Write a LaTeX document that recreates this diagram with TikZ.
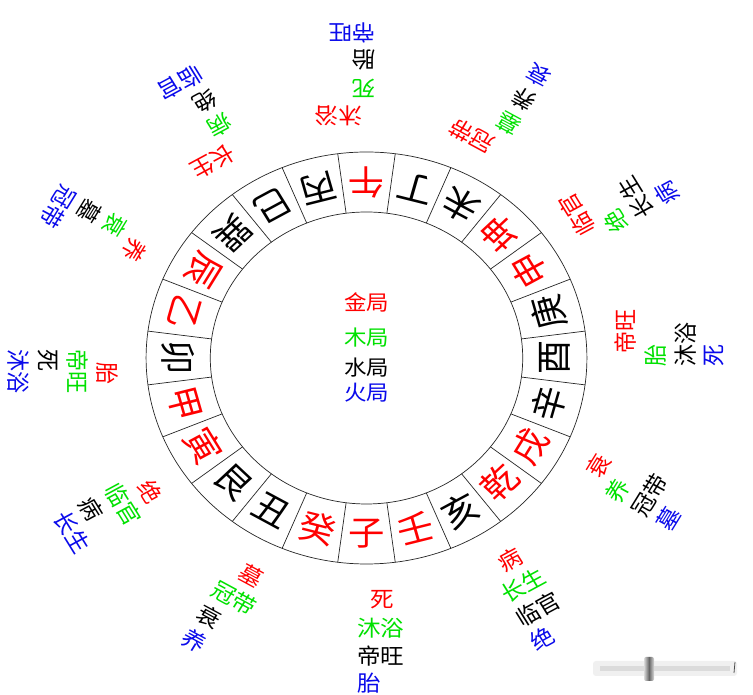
\documentclass[tikz,border=0pt]{standalone}
\usepackage{fontspec}
\setmainfont{Noto Sans CJK SC}
\definecolor{cred}{RGB}{255,0,0}
\definecolor{cgreen}{RGB}{0,225,0}
\definecolor{cblack}{RGB}{0,0,0}
\definecolor{cblue}{RGB}{10,10,235}
\tikzset{
  ringline/.style={draw=black!85, line width=0.7pt},
  mountain/.style={font=\fontsize{34}{34}\selectfont, inner sep=0pt},
  lab/.style={font=\fontsize{22}{22}\selectfont, inner sep=0pt, anchor=west, rotate=90},
  jutext/.style={font=\fontsize{21}{21}\selectfont, inner sep=0pt}
}
\begin{document}
\begin{tikzpicture}[x=1pt,y=1pt]
\useasboundingbox (0,0) rectangle (753,695);
\fill[white] (0,0) rectangle (753,695);
\begin{scope}[shift={(366.5,337)}, xscale=1.07, transform shape]
  % ring
  \draw[ringline] (0,0) circle (146);
  \draw[ringline] (0,0) circle (206);
  \foreach \k in {0,...,23}
    \draw[ringline] ({97.5-15*\k}:146) -- ({97.5-15*\k}:206);
  % 24 mountains
  \foreach \ch/\col [count=\k from 0] in {午/cred,丁/cblack,未/cblack,坤/cred,申/cred,庚/cblack,酉/cblack,辛/cblack,戌/cred,乾/cred,亥/cblack,壬/cred,子/cred,癸/cred,丑/cblack,艮/cblack,寅/cred,甲/cred,卯/cblack,乙/cred,辰/cred,巽/cblack,巳/cblack,丙/cblack}
    \node[mountain, text=\col, rotate={180-15*\k}] (m\k) at ({90-15*\k}:176) {\ch};
  % centre
  \node[jutext, text=cred]   (jin)  at (0,56)  {金局};
  \node[jutext, text=cgreen] (mu)   at (0,20)  {木局};
  \node[jutext, text=cblack] (shui) at (0,-10) {水局};
  \node[jutext, text=cblue]  (huo)  at (0,-35) {火局};
  % twelve stages
  \foreach \ang/\ta/\tb/\tc/\td [count=\j] in {
      90/沐浴/死/胎/帝旺,
      60/冠带/墓/养/衰,
      30/临官/绝/长生/病,
      0/帝旺/胎/沐浴/死,
      -30/衰/养/冠带/墓,
      -60/病/长生/临官/绝,
      -90/死/沐浴/帝旺/胎,
      -120/墓/冠带/衰/养,
      -150/绝/临官/病/长生,
      180/胎/帝旺/死/沐浴,
      150/养/衰/墓/冠带,
      120/长生/病/绝/临官}{
    \begin{scope}[rotate=\ang]
      \node[lab, text=cred]   (r\j) at (242,4)  {\ta};
      \node[lab, text=cgreen] (g\j) at (270,-9) {\tb};
      \node[lab, text=cblack] (k\j) at (298,-9) {\tc};
      \node[lab, text=cblue]  (b\j) at (325,-9) {\td};
    \end{scope}
  }
\end{scope}
% faint artifact bar at bottom right
\fill[black!6, rounded corners=3pt] (593,19) rectangle (737,34);
\fill[black!14] (600,24) rectangle (730,29);
\shade[left color=black!15, right color=black!15, middle color=black!60, rounded corners=2pt] (644,14) rectangle (654,38);
\draw[black!70, line width=0.8pt] (734,22) -- (735,33);
\end{tikzpicture}
\end{document}
